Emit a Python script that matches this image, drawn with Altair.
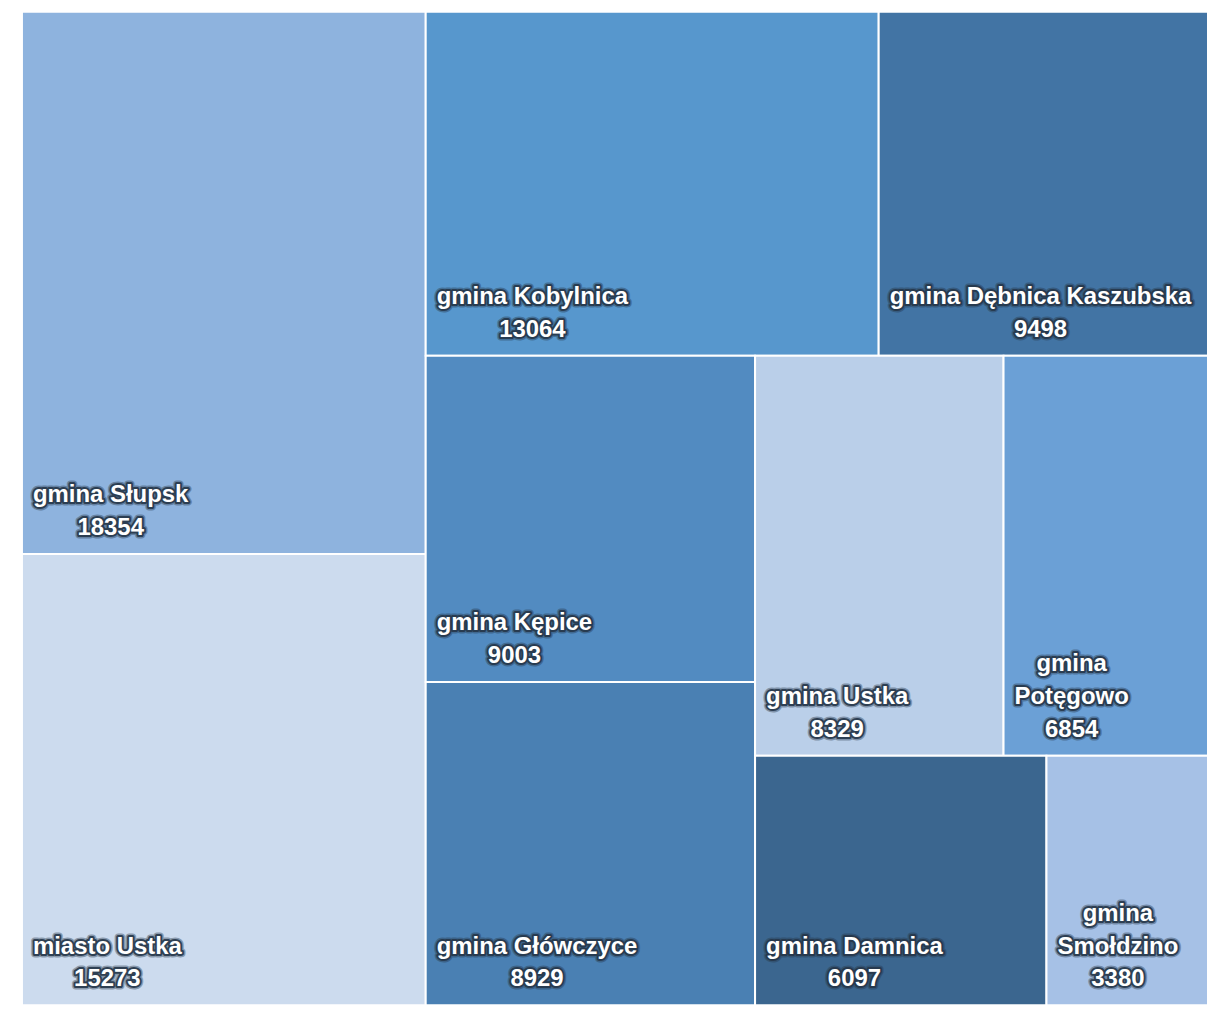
import altair as alt
import pandas as pd

# ---- data ----
names = ["gmina Słupsk", "miasto Ustka", "gmina Kobylnica", "gmina Dębnica Kaszubska",
         "gmina Kępice", "gmina Główczyce", "gmina Ustka", "gmina Potęgowo",
         "gmina Damnica", "gmina Smołdzino"]
values = [18354, 15273, 13064, 9498, 9003, 8929, 8329, 6854, 6097, 3380]
colors = ["#8EB3DE", "#CCDBEE", "#5797CD", "#4274A4", "#528BC1",
          "#4A80B3", "#BACFE9", "#6BA0D6", "#3B668F", "#A6C1E6"]

W, H = 1190, 997
FONT = "Liberation Sans"
FONT_SIZE = 24
LINE_H = 33


def squarify(vals, x0, y0, x1, y1, ratio=1.0):
    """classic squarified treemap (d3.treemapSquarify.ratio(1))"""
    rects = [None] * len(vals)
    order = sorted(range(len(vals)), key=lambda i: -vals[i])
    nodes = [vals[i] for i in order]
    n = len(nodes)
    i0 = i1 = 0
    value = float(sum(nodes))
    while i0 < n:
        dx, dy = x1 - x0, y1 - y0
        sumv = nodes[i1]
        i1 += 1
        minv = maxv = sumv
        alpha = max(dy / dx, dx / dy) / (value * ratio)
        beta = sumv * sumv * alpha
        minr = max(maxv / beta, beta / minv)
        while i1 < n:
            nv = nodes[i1]
            sumv += nv
            mn, mx = min(minv, nv), max(maxv, nv)
            beta = sumv * sumv * alpha
            newr = max(mx / beta, beta / mn)
            if newr > minr:
                sumv -= nv
                break
            minv, maxv, minr = mn, mx, newr
            i1 += 1
        row = list(range(i0, i1))
        if dx < dy:
            ny = y0 + dy * sumv / value
            cx = x0
            for k in row:
                w = (x1 - x0) * nodes[k] / sumv
                rects[order[k]] = (cx, y0, cx + w, ny)
                cx += w
            y0 = ny
        else:
            nx = x0 + dx * sumv / value
            cy = y0
            for k in row:
                h = (y1 - y0) * nodes[k] / sumv
                rects[order[k]] = (x0, cy, nx, cy + h)
                cy += h
            x0 = nx
        value -= sumv
        i0 = i1
    return rects


# Arial-Bold-like advance widths (per 1000 em)
CW = {'a': 556, 'b': 611, 'c': 556, 'd': 611, 'e': 556, 'f': 333, 'g': 611, 'h': 611,
      'i': 278, 'j': 278, 'k': 556, 'l': 278, 'm': 889, 'n': 611, 'o': 611, 'p': 611,
      'q': 611, 'r': 389, 's': 556, 't': 333, 'u': 611, 'v': 556, 'w': 778, 'x': 556,
      'y': 556, 'z': 500, ' ': 278, 'ł': 278, 'ę': 556, 'ó': 611,
      'D': 722, 'G': 778, 'K': 722, 'P': 667, 'S': 667, 'U': 722}


def text_w(s):
    return sum(CW.get(c, 556) for c in s) * FONT_SIZE / 1000.0


def wrap(s, maxw):
    words = s.split(" ")
    lines, cur = [], ""
    for w in words:
        t = (cur + " " + w) if cur else w
        if text_w(t) <= maxw or not cur:
            cur = t
        else:
            lines.append(cur)
            cur = w
    lines.append(cur)
    return lines


rects = squarify(values, 0, 0, W, H)

rect_rows, label_rows = [], []
for nm, v, (a, b, c, d) in zip(names, values, rects):
    rect_rows.append(dict(name=nm, value=v, x=a, x2=c, y=b, y2=d))
    lines = wrap(nm, (c - a) - 20) + [str(v)]
    block_w = max(text_w(l) for l in lines)
    cx = a + 11 + block_w / 2
    nl = len(lines)
    for i, l in enumerate(lines):
        label_rows.append(dict(name=nm, text=l, x=cx, y=d - 26 - (nl - 1 - i) * LINE_H))

rdf = pd.DataFrame(rect_rows)
ldf = pd.DataFrame(label_rows)

xs = alt.Scale(domain=[0, W], nice=False, zero=False)
ys = alt.Scale(domain=[0, H], nice=False, zero=False, reverse=True)

cells = alt.Chart(rdf).mark_rect(stroke="white", strokeWidth=2).encode(
    x=alt.X("x:Q", scale=xs, axis=None),
    x2="x2:Q",
    y=alt.Y("y:Q", scale=ys, axis=None),
    y2="y2:Q",
    color=alt.Color("name:N", scale=alt.Scale(domain=names, range=colors), legend=None),
    tooltip=["name:N", "value:Q"],
)

base_l = alt.Chart(ldf).encode(
    x=alt.X("x:Q", scale=xs, axis=None),
    y=alt.Y("y:Q", scale=ys, axis=None),
    text="text:N",
)
halo_outer = base_l.mark_text(font=FONT, fontSize=FONT_SIZE, fontWeight="bold",
                              align="center", baseline="middle", fill="#26374a",
                              stroke="#26374a", strokeWidth=7, strokeJoin="round",
                              opacity=0.4)
halo = base_l.mark_text(font=FONT, fontSize=FONT_SIZE, fontWeight="bold",
                        align="center", baseline="middle", fill="#26374a",
                        stroke="#26374a", strokeWidth=4, strokeJoin="round",
                        opacity=0.9)
txt = base_l.mark_text(font=FONT, fontSize=FONT_SIZE, fontWeight="bold",
                       align="center", baseline="middle", color="white")

chart = alt.layer(cells, halo_outer, halo, txt).properties(
    width=W, height=H,
    padding={"left": 13, "top": 1, "right": 0, "bottom": 0},
    background="white",
).configure_view(stroke=None)

chart.save("out.html", embed_options={"renderer": "svg", "actions": False})
